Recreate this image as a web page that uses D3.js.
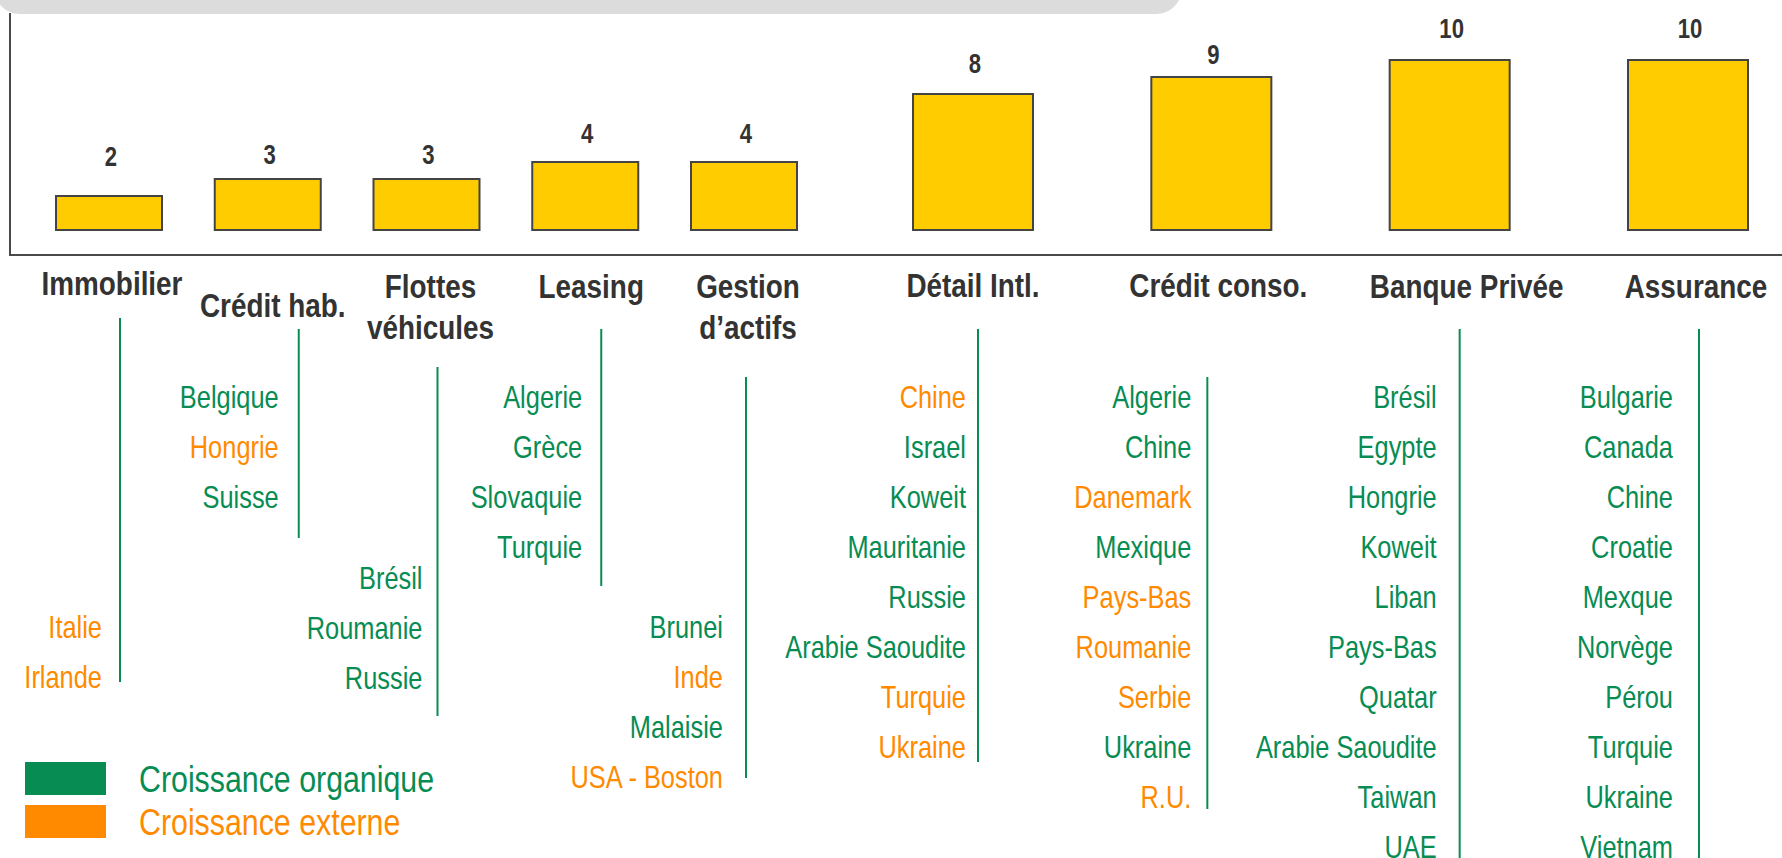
<!DOCTYPE html>
<html>
<head>
<meta charset="utf-8">
<script src="https://cdn.jsdelivr.net/npm/d3@7"></script>
<style>
  body { margin: 0; background: #fff; }
  svg text { font-family: "Liberation Sans", Arial, sans-serif; }
</style>
</head>
<body>
<div id="chart"></div>
<script>
// Data
const categories = ["Immobilier", "Crédit hab.", "Flottes véhicules", "Leasing", "Gestion d’actifs",
                    "Détail Intl.", "Crédit conso.", "Banque Privée", "Assurance"];
const categoryLines = [["Immobilier"], ["Crédit hab."], ["Flottes", "véhicules"], ["Leasing"], ["Gestion", "d’actifs"],
                       ["Détail Intl."], ["Crédit conso."], ["Banque Privée"], ["Assurance"]];
const values = [2, 3, 3, 4, 4, 8, 9, 10, 10];

const countries = [
    ["Italie", "Irlande"],
    ["Belgique", "Hongrie", "Suisse"],
    ["Brésil", "Roumanie", "Russie"],
    ["Algerie", "Grèce", "Slovaquie", "Turquie"],
    ["Brunei", "Inde", "Malaisie", "USA - Boston"],
    ["Chine", "Israel", "Koweit", "Mauritanie", "Russie", "Arabie Saoudite", "Turquie", "Ukraine"],
    ["Algerie", "Chine", "Danemark", "Mexique", "Pays-Bas", "Roumanie", "Serbie", "Ukraine", "R.U."],
    ["Brésil", "Egypte", "Hongrie", "Koweit", "Liban", "Pays-Bas", "Quatar", "Arabie Saoudite", "Taiwan", "UAE"],
    ["Bulgarie", "Canada", "Chine", "Croatie", "Mexque", "Norvège", "Pérou", "Turquie", "Ukraine", "Vietnam"]
];
// "o" = croissance organique, "e" = croissance externe
const growth = [
    ["e", "e"],
    ["o", "e", "o"],
    ["o", "o", "o"],
    ["o", "o", "o", "o"],
    ["o", "e", "o", "e"],
    ["e", "o", "o", "o", "o", "o", "e", "e"],
    ["o", "o", "e", "o", "e", "e", "e", "o", "e"],
    ["o", "o", "o", "o", "o", "o", "o", "o", "o", "o"],
    ["o", "o", "o", "o", "o", "o", "o", "o", "o", "o"]
];
const legendKeys = ["o", "e"];
const legendLabels = ["Croissance organique", "Croissance externe"];

// Layout: country lists (row units), guide lines, label nudges
const listStart = [4.6, 0, 3.62, 0, 4.6, 0, 0, 0, 0];
const guideSpan = [[-1.58, 5.7], [-1.36, 2.82], [-0.6, 6.38], [-1.36, 3.78], [-0.4, 7.62],
                   [-1.36, 7.3], [-0.4, 8.24], [-1.36, 9.4], [-1.36, 9.4]];
const guideDx = [11, 31, 11, 16, 2, 5, -4, 10, 11];
const textGap = [18, 20, 15, 19, 23, 12, 16, 23, 26];
const labelDx = [3, 5, 4, 6, 4, 0, 7, 17, 8];
const labelDy = [-3, 19, 0, 0, 0, -1, -1, 0, 0];
const valueGap = [30, 15, 15, 19, 19, 21, 13, 22, 22];

const width = 1782, height = 858;
const green = "#078c53", orange = "#ff8a00";
const squeeze = 0.82; // narrow type, like Arial Narrow

const svg = d3.select("#chart")
    .append("svg")
    .attr("width", width)
    .attr("height", height);

// place a text at (x, y) and squeeze it horizontally
function narrow(px, py) {
    return `translate(${px},${py}) scale(${squeeze},1)`;
}

// Scales
const x = d3.scaleLinear().domain([0, 4, 5, 8]).range([109, 744, 973, 1688]);
const y = d3.scaleLinear().domain([0, 10]).range([230, 60]);
const row = d3.scaleLinear().domain([0, 1]).range([397, 447]);
const color = d3.scaleOrdinal().domain(["o", "e"]).range([green, orange]);
const barWidth = i => i < 5 ? 106 : 120;

// Grey banner on top
svg.append("rect")
    .attr("x", -6).attr("y", -40)
    .attr("width", 1188).attr("height", 54)
    .attr("rx", 26)
    .attr("fill", "#dcdcdc");

// Frame (left and bottom axis)
svg.append("path")
    .attr("d", "M10,13V255H" + width)
    .attr("fill", "none")
    .attr("stroke", "#4a4a4a")
    .attr("stroke-width", 2);

// Bars
svg.selectAll(".bar")
    .data(values)
    .enter()
    .append("rect")
    .attr("class", "bar")
    .attr("x", (d, i) => x(i) - barWidth(i) / 2)
    .attr("y", d => y(d))
    .attr("width", (d, i) => barWidth(i))
    .attr("height", d => y(0) - y(d))
    .attr("fill", "#ffcc00")
    .attr("stroke", "#444")
    .attr("stroke-width", 2);

// Value labels
svg.selectAll(".value")
    .data(values)
    .enter()
    .append("text")
    .attr("class", "value")
    .attr("transform", (d, i) => narrow(x(i) + 2, y(d) - valueGap[i]))
    .attr("text-anchor", "middle")
    .attr("font-size", 27)
    .attr("font-weight", "bold")
    .attr("fill", "#333")
    .text(d => d);

// Category labels
const catText = svg.selectAll(".cat")
    .data(categoryLines)
    .enter()
    .append("text")
    .attr("class", "cat")
    .attr("transform", (d, i) => narrow(x(i) + labelDx[i], 298 + labelDy[i]))
    .attr("text-anchor", "middle")
    .attr("font-size", 34)
    .attr("font-weight", "bold")
    .attr("fill", "#333");

catText.selectAll("tspan")
    .data(d => d)
    .enter()
    .append("tspan")
    .attr("x", 0)
    .attr("dy", (d, j) => j === 0 ? 0 : 41)
    .text(d => d);

// Guide lines and country lists
categories.forEach((cat, i) => {
    const gx = x(i) + guideDx[i];
    svg.append("line")
        .attr("x1", gx).attr("x2", gx)
        .attr("y1", row(guideSpan[i][0]))
        .attr("y2", row(guideSpan[i][1]))
        .attr("stroke", green)
        .attr("stroke-width", 2);

    svg.append("g")
        .selectAll("text")
        .data(countries[i])
        .enter()
        .append("text")
        .attr("transform", (d, j) => narrow(gx - textGap[i], row(listStart[i] + j)))
        .attr("dy", "0.35em")
        .attr("text-anchor", "end")
        .attr("font-size", 31)
        .attr("fill", (d, j) => color(growth[i][j]))
        .text(d => d);
});

// Legend
const legend = svg.append("g")
    .selectAll("g")
    .data(legendKeys)
    .enter()
    .append("g")
    .attr("transform", (d, i) => `translate(25,${762 + i * 43})`);

legend.append("rect")
    .attr("width", 81)
    .attr("height", 33)
    .attr("fill", d => color(d));

legend.append("text")
    .attr("transform", narrow(114, 17))
    .attr("dy", "0.35em")
    .attr("font-size", 37)
    .attr("fill", d => color(d))
    .text((d, i) => legendLabels[i]);
</script>
</body>
</html>
